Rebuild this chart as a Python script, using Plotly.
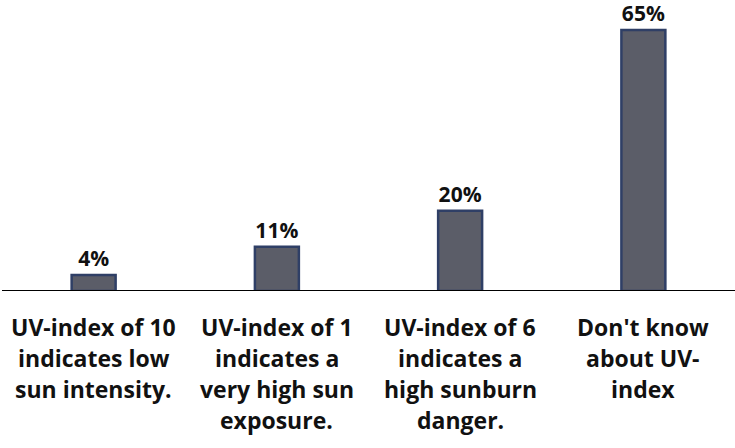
import plotly.graph_objects as go

categories = [
    "UV-index of 10<br>indicates low<br>sun intensity.",
    "UV-index of 1<br>indicates a<br>very high sun<br>exposure.",
    "UV-index of 6<br>indicates a<br>high sunburn<br>danger.",
    "Don't know<br>about UV-<br>index",
]
values = [4, 11, 20, 65]
value_labels = ["4%", "11%", "20%", "65%"]

FONT = "'Open Sans', Lato, sans-serif"

fig = go.Figure()
fig.add_trace(go.Bar(
    x=list(range(len(categories))),
    y=values,
    text=value_labels,
    textposition="outside",
    textfont=dict(family=FONT, size=21, color="#111111", weight="bold"),
    cliponaxis=False,
    width=0.24,
    marker=dict(color="#5b5d68", line=dict(color="#2f3f66", width=2.5)),
    hoverinfo="skip",
))

annotations = []
for i, cat in enumerate(categories):
    for j, line in enumerate(cat.split("<br>")):
        annotations.append(dict(
            x=i, xref="x", y=0, yref="y",
            text="<b>" + line + "</b>",
            showarrow=False, xanchor="center", yanchor="middle",
            yshift=-36 - 31 * j,
            font=dict(family=FONT, size=23, color="#111111"),
        ))

fig.update_layout(
    width=735, height=448,
    margin=dict(l=2, r=0, t=0, b=157),
    paper_bgcolor="white", plot_bgcolor="white",
    showlegend=False,
    annotations=annotations,
    xaxis=dict(range=[-0.5, 3.5], showticklabels=False, showgrid=False,
               zeroline=False, showline=False, ticks=""),
    yaxis=dict(range=[0, 72.5], visible=False, showgrid=False, zeroline=False),
    shapes=[dict(type="line", xref="paper", yref="y", x0=0, x1=1, y0=0, y1=0,
                 line=dict(color="black", width=2), layer="above")],
)

fig.write_html(
    "out.html",
    config={"displayModeBar": False},
    post_script="document.body.style.margin='0';document.body.style.padding='0';",
)
